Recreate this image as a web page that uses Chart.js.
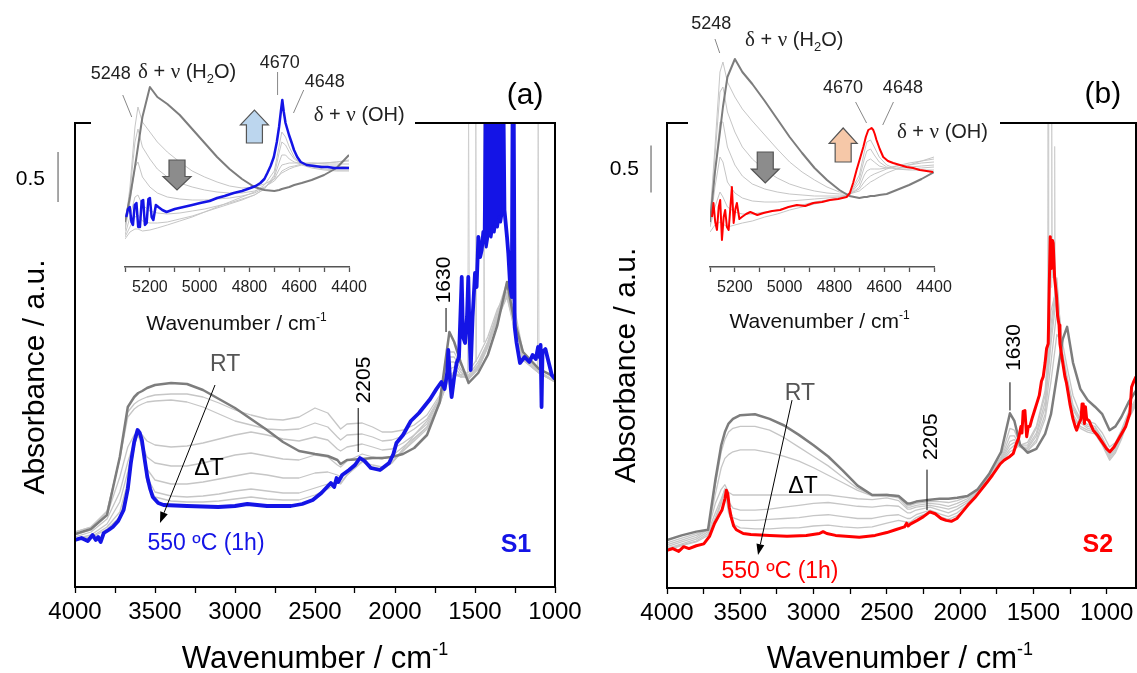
<!DOCTYPE html>
<html><head><meta charset="utf-8">
<script src="https://cdn.jsdelivr.net/npm/chart.js@4.4.1/dist/chart.umd.min.js"></script>
<style>
html,body{margin:0;padding:0;background:#fff;overflow:hidden;width:1137px;height:673px;position:relative;}
canvas{position:absolute;}
#ca{left:0;top:0;z-index:1}
#cb{left:560px;top:0;z-index:2}
#ia{left:91px;top:38px;z-index:3}
#ib{left:688px;top:0;z-index:4}
</style></head><body>
<canvas id="ca" width="620" height="673"></canvas>
<canvas id="cb" width="577" height="673"></canvas>
<canvas id="ia" width="324" height="302"></canvas>
<canvas id="ib" width="312" height="340"></canvas>
<script>
// ---------------- DATA ----------------
// Panel (a), sample S1: wavenumber grid for the RT / intermediate spectra
const wnA = [4000,3900,3800,3720,3670,3630,3605,3580,3550,3500, 3400,3300,3200,3100,3000,2900,2800,2700,2600,2500, 2420,2360,2340,2300,2205,2140,2080,2020,1950,1880, 1800,1720,1660,1630,1590,1540,1480,1420,1360,1300, 1260,1200,1100,1000];
const rtA = [.53,.58,.72,1.30,1.80,1.90,1.94,1.96,1.99,2.02, 2.04,2.03,1.97,1.88,1.79,1.68,1.57,1.45,1.36,1.33, 1.31,1.27,1.23,1.27,1.28,1.29,1.29,1.30,1.33,1.39, 1.52,1.85,2.55,2.45,2.25,2.04,2.14,2.32,2.62,3.05, 2.70,2.35,2.18,2.10];
const g1A = [.55,.60,.75,1.30,1.75,1.83,1.86,1.88,1.90,1.92, 1.93,1.93,1.90,1.84,1.77,1.72,1.68,1.67,1.70,1.79, 1.74,1.62,1.58,1.63,1.64,1.60,1.55,1.55,1.57,1.62, 1.72,1.92,2.35,2.35,2.22,2.10,2.22,2.45,2.75,3.05, 2.85,2.35,2.18,2.08];
const g2A = [.55,.60,.76,1.28,1.70,1.78,1.81,1.83,1.85,1.86, 1.87,1.85,1.80,1.73,1.66,1.62,1.58,1.57,1.58,1.64, 1.60,1.50,1.47,1.52,1.53,1.50,1.46,1.47,1.51,1.58, 1.68,1.90,2.30,2.30,2.18,2.08,2.20,2.42,2.72,3.00, 2.80,2.32,2.16,2.06];
const g3A = [.52,.57,.72,1.10,1.40,1.52,1.55,1.52,1.46,1.42, 1.40,1.41,1.44,1.48,1.52,1.55,1.52,1.48,1.46,1.50, 1.47,1.38,1.36,1.40,1.43,1.40,1.37,1.38,1.44,1.52, 1.63,1.88,2.25,2.25,2.15,2.08,2.18,2.40,2.70,2.95, 2.75,2.30,2.15,2.05];
const g4A = [.50,.55,.68,0.95,1.25,1.45,1.52,1.42,1.30,1.24, 1.21,1.21,1.24,1.28,1.32,1.34,1.31,1.28,1.27,1.32, 1.30,1.22,1.20,1.26,1.33,1.30,1.28,1.31,1.40,1.49, 1.60,1.85,2.18,2.20,2.12,2.08,2.18,2.40,2.68,2.92, 2.70,2.28,2.14,2.05];
const g5A = [.48,.52,.63,0.85,1.15,1.45,1.53,1.38,1.18,1.07, 1.03,1.03,1.05,1.08,1.11,1.14,1.12,1.09,1.09,1.14, 1.15,1.12,1.10,1.16,1.25,1.22,1.20,1.25,1.36,1.46, 1.58,1.83,2.12,2.15,2.10,2.10,2.20,2.42,2.68,2.90, 2.65,2.27,2.14,2.05];
const g6A = [.47,.50,.60,0.75,1.05,1.42,1.54,1.40,1.10,0.95, 0.91,0.90,0.91,0.93,0.96,0.98,0.96,0.94,0.94,0.99, 1.03,1.05,1.04,1.12,1.25,1.20,1.18,1.24,1.36,1.48, 1.60,1.84,2.10,2.12,2.10,2.12,2.25,2.45,2.72,2.90, 2.62,2.27,2.14,2.05];
const g7A = [.47,.49,.58,0.70,1.00,1.40,1.55,1.42,1.05,0.90, 0.86,0.85,0.85,0.86,0.88,0.90,0.88,0.87,0.87,0.92, 0.98,1.04,1.03,1.12,1.26,1.19,1.17,1.24,1.38,1.52, 1.66,1.88,2.12,2.12,2.12,2.15,2.30,2.50,2.78,2.95, 2.62,2.28,2.15,2.06];
const spikeWnA  = [1546,1540,1534,1520,1500,1495,1490,1470,1450,1445,1440,1300,1110,1105,1100];
const spikeAbsA = [2.10,4.80,2.15,null,2.25,4.80,2.25,null,2.45,4.80,2.45,null,2.20,4.80,2.20];
// 550 C (1h) spectrum of S1 (off-scale between ~1432 and ~1322)
const blueWnA = [4000,3960,3920,3890,3870,3855,3840,3820,3790,3764,3730,3696,3670,3651,3630,3609,3595,3582,3565,3548,3530,3514,3480,3446,3300,3105,3000,2923,2800,2651,2580,2514,2460,2401,2380,2365,2355,2330,2287,2250,2219,2190,2151,2094,2037,2010,1991,1950,1901,1850,1810,1780,1741,1710,1690,1673,1667,1655,1646,1630,1615,1600,1583,1575,1562,1550,1542,1535,1527,1515,1500,1490,1479,1468,1458,
  1448,1440,1432,1380,1322,1316,
  1300,1292,1280,1270,1265,1258,1252,1240,1219,1190,1160,1140,1120,1106,1098,1090,1084,1078,1060,1040,1020,1000];
const blueAbsA = [0.47,0.49,0.46,0.52,0.47,0.50,0.45,0.54,0.57,0.60,0.66,0.77,0.98,1.24,1.45,1.57,1.54,1.47,1.28,1.10,0.98,0.90,0.84,0.82,0.81,0.80,0.81,0.83,0.81,0.81,0.83,0.87,0.94,1.04,1.00,1.09,1.05,1.12,1.17,1.22,1.29,1.26,1.19,1.17,1.24,1.33,1.44,1.52,1.66,1.74,1.82,1.88,1.98,2.05,1.98,2.15,2.37,2.05,1.90,2.10,2.24,2.30,3.10,2.50,2.44,2.70,3.10,2.60,2.17,2.70,3.14,3.00,3.50,3.30,3.37,
  3.55,3.45,4.80,4.80,4.80,3.77,
  3.50,3.34,3.00,2.90,4.80,4.80,2.60,2.44,2.24,2.30,2.25,2.32,2.28,2.40,2.30,2.42,1.80,2.35,2.38,2.25,2.12,2.08];
// lower edge of the dense, saturated (off-scale) band of the S1 spectrum
const blobWnA  = [1436,1430,1420,1410,1400,1390,1380,1370,1360,1350,1340,1330,1322];
const blobLowA = [3.45,3.40,3.50,3.55,3.50,3.60,3.55,3.65,3.60,3.70,3.65,3.75,3.77];

// Panel (b), sample S2
const wnB = [4000,3900,3800,3720,3670,3630,3605,3580,3550,3500, 3400,3300,3200,3100,3000,2900,2800,2700,2600,2500, 2420,2360,2340,2300,2205,2140,2080,2020,1950,1880, 1800,1720,1660,1630,1590,1540,1480,1420,1380,1340, 1300,1270,1230,1180,1130,1080,1030,980,940,900, 850,800];
const rtB = [.51,.56,.60,.62,1.15,1.52,1.66,1.75,1.80,1.84, 1.85,1.80,1.73,1.63,1.52,1.40,1.25,1.09,0.99,0.99, 0.98,0.90,0.90,0.92,0.94,0.95,0.95,0.96,0.98,1.05, 1.22,1.45,1.86,1.78,1.52,1.44,1.48,1.64,1.85,2.25, 2.65,2.78,2.40,2.12,2.00,1.93,1.85,1.68,1.72,1.82, 1.98,2.10];
const k1B = [.48,.53,.58,.62,1.10,1.45,1.58,1.66,1.70,1.72, 1.72,1.68,1.60,1.50,1.40,1.30,1.18,1.06,0.99,1.00, 0.98,0.88,0.88,0.90,0.92,0.92,0.91,0.93,0.97,1.05, 1.20,1.40,1.70,1.68,1.52,1.46,1.55,1.80,2.20,2.70, 2.60,2.35,2.05,1.85,1.78,1.75,1.65,1.50,1.55,1.68, 1.88,2.02];
const k2B = [.46,.51,.56,.62,1.00,1.28,1.38,1.42,1.45,1.47, 1.47,1.44,1.40,1.35,1.28,1.20,1.12,1.04,0.98,0.98, 0.96,0.86,0.86,0.88,0.90,0.89,0.87,0.90,0.95,1.04, 1.19,1.38,1.62,1.62,1.50,1.46,1.58,1.85,2.40,2.95, 2.50,2.25,1.95,1.80,1.74,1.72,1.60,1.45,1.52,1.65, 1.86,2.00];
const k3B = [.44,.49,.54,.62,0.90,1.05,1.10,1.02,0.99,0.99, 0.99,0.99,0.99,0.99,0.99,0.99,0.97,0.95,0.94,0.96, 0.93,0.84,0.84,0.86,0.88,0.86,0.84,0.87,0.93,1.03, 1.18,1.37,1.56,1.58,1.50,1.48,1.62,1.92,2.60,3.15, 2.45,2.20,1.92,1.78,1.72,1.70,1.58,1.42,1.50,1.63, 1.85,1.98];
const k4B = [.42,.47,.52,.60,0.80,0.95,1.05,0.92,0.85,0.83, 0.83,0.84,0.86,0.88,0.90,0.91,0.89,0.87,0.86,0.88, 0.87,0.80,0.80,0.83,0.86,0.83,0.80,0.84,0.91,1.02, 1.17,1.36,1.52,1.55,1.50,1.50,1.65,1.98,2.70,3.25, 2.45,2.18,1.90,1.76,1.70,1.68,1.56,1.40,1.48,1.62, 1.84,1.97];
const k5B = [.41,.46,.50,.58,0.75,0.92,1.06,0.85,0.75,0.72, 0.72,0.73,0.74,0.75,0.77,0.78,0.76,0.74,0.74,0.77, 0.78,0.74,0.74,0.78,0.83,0.79,0.76,0.80,0.89,1.01, 1.16,1.35,1.48,1.52,1.52,1.52,1.70,2.05,2.80,3.30, 2.42,2.15,1.85,1.72,1.68,1.66,1.54,1.38,1.46,1.60, 1.82,1.96];
const k6B = [.40,.45,.49,.56,0.72,0.90,1.05,0.80,0.68,0.64, 0.63,0.63,0.64,0.64,0.66,0.67,0.65,0.64,0.65,0.69, 0.72,0.70,0.70,0.75,0.81,0.76,0.73,0.77,0.87,1.00, 1.15,1.34,1.45,1.48,1.52,1.55,1.72,2.10,2.95,3.20, 2.40,2.12,1.82,1.70,1.66,1.64,1.52,1.36,1.44,1.58, 1.80,1.95];
const spikeWnB  = [1404,1400,1396,1390,1379,1375,1371,1365,1359,1355,1351];
const spikeAbsB = [2.60,5.00,2.70,null,3.20,5.00,3.30,null,3.10,4.70,3.10];
const redWnB = [4000,3960,3920,3886,3850,3800,3749,3710,3675,3650,3625,3605,3595,3585,3575,3563,3545,3527,3480,3428,3300,3181,3050,2960,2935,2910,2850,2688,2580,2500,2441,2380,2365,2355,2340,2293,2250,2207,2170,2130,2096,2060,2022,1990,1948,1900,1860,1819,1780,1727,1700,1660,1638,1615,1600,1585,1578,1570,1558,1546,1535,1524,1510,1490,1478,1460,1445,1433,1420,1410,1399,1392,1385,1378,1370,1365,1355,1342,1335,1325,1319,1300,1285,1274,1260,1251,1230,1215,1205,1190,1175,1168,1160,1152,1145,1137,1120,1092,1060,1030,1000,978,950,910,870,842,830,815,800];
const redAbsB = [0.40,0.42,0.39,0.44,0.42,0.45,0.47,0.55,0.69,0.76,0.83,0.95,1.04,1.00,0.86,0.76,0.66,0.62,0.58,0.57,0.56,0.55,0.56,0.58,0.60,0.58,0.56,0.54,0.56,0.59,0.62,0.65,0.69,0.66,0.68,0.72,0.76,0.81,0.79,0.74,0.72,0.71,0.74,0.80,0.88,0.96,1.04,1.12,1.20,1.32,1.36,1.40,1.43,1.54,1.60,1.72,1.65,1.88,1.89,1.61,1.72,1.72,1.80,1.90,1.96,2.05,2.20,2.25,2.40,2.55,2.60,3.20,3.74,3.40,3.70,3.67,3.30,3.10,2.90,2.80,2.60,2.40,2.25,2.18,2.05,1.96,1.80,1.72,1.68,1.75,1.80,1.96,1.96,1.75,1.93,1.80,1.78,1.68,1.62,1.55,1.48,1.45,1.50,1.61,1.72,1.86,2.14,2.20,2.25];

// Insets: near-IR region 5300-4400 cm-1
const wnIns = [5300,5280,5260,5248,5230,5200,5170,5130,5080,5030,4980,4930,4880,4830,4780,4740,4700,4680,4670,4655,4640,4620,4590,4550,4500,4450,4400];
const rtInsA = [.45,.70,1.00,1.20,1.50,1.80,1.70,1.63,1.52,1.38,1.24,1.10,0.98,0.88,0.80,0.77,0.76,0.77,0.78,0.79,0.80,0.82,0.84,0.87,0.92,0.99,1.12];
const i1A = [.40,.80,1.40,1.60,1.45,1.35,1.25,1.15,1.05,0.96,0.90,0.85,0.81,0.79,0.80,0.83,0.88,0.92,0.94,0.96,0.98,1.00,1.02,1.03,1.04,1.05,1.07];
const i2A = [.38,.75,1.25,1.38,1.20,1.08,0.98,0.90,0.84,0.80,0.77,0.75,0.74,0.74,0.76,0.80,0.86,0.92,0.96,0.98,1.00,1.01,1.03,1.04,1.04,1.05,1.06];
const i3A = [.36,.65,1.00,1.05,0.90,0.80,0.74,0.70,0.68,0.67,0.67,0.68,0.69,0.71,0.74,0.79,0.88,0.98,1.02,1.03,1.04,1.04,1.04,1.04,1.03,1.03,1.03];
const i4A = [.32,.50,.70,.72,.62,.56,.54,.53,.54,.56,.58,.61,.64,.68,.72,.78,.90,1.05,1.12,1.12,1.08,1.05,1.03,1.02,1.01,1.01,1.00];
const i5A = [.30,.40,.50,.52,.46,.44,.44,.45,.48,.51,.55,.59,.63,.67,.72,.78,.92,1.15,1.25,1.22,1.15,1.08,1.03,1.00,0.98,0.97,0.97];
const i6A = [.28,.35,.38,.38,.36,.37,.39,.42,.46,.50,.55,.60,.65,.70,.75,.82,.96,1.22,1.35,1.30,1.20,1.10,1.02,0.99,0.97,0.96,0.96];
const blueInsWnA = [5295,5288,5281,5274,5268,5261,5254,5247,5240,5233,5227,5220,5213,5206,5200,5193,5186,5176,5166,5150,5133,5100,5065,5030,4998,4960,4930,4900,4863,4830,4796,4775,4756,4740,4728,4715,4702,4690,4681,4674,4668,4662,4655,4648,4641,4630,4621,4608,4594,4570,4540,4510,4486,4460,4445,4420,4398];
const blueInsAbsA = [0.50,0.58,0.60,0.45,0.42,0.62,0.64,0.40,0.40,0.66,0.67,0.42,0.44,0.68,0.69,0.50,0.47,0.62,0.60,0.57,0.55,0.58,0.60,0.62,0.64,0.66,0.69,0.71,0.74,0.76,0.79,0.81,0.84,0.88,0.94,1.01,1.10,1.25,1.40,1.55,1.67,1.55,1.44,1.38,1.32,1.24,1.17,1.10,1.05,1.02,1.01,1.00,1.00,0.99,0.99,0.99,0.99];
const rtInsB = [.45,.95,1.35,1.60,1.90,2.08,1.95,1.83,1.66,1.48,1.30,1.14,0.99,0.87,0.77,0.71,0.69,0.70,0.70,0.71,0.71,0.72,0.73,0.77,0.82,0.88,0.95];
const j1B = [.50,1.20,1.95,2.05,1.85,1.70,1.58,1.46,1.32,1.18,1.05,0.95,0.87,0.80,0.75,0.73,0.76,0.80,0.82,0.85,0.87,0.90,0.94,0.98,1.02,1.06,1.10];
const j2B = [.48,1.10,1.75,1.80,1.55,1.35,1.20,1.08,0.97,0.89,0.83,0.79,0.76,0.74,0.73,0.73,0.78,0.85,0.88,0.91,0.93,0.95,0.98,1.01,1.04,1.06,1.08];
const j3B = [.45,.95,1.45,1.45,1.20,1.02,0.91,0.83,0.78,0.75,0.73,0.72,0.71,0.71,0.71,0.72,0.80,0.92,0.96,0.98,0.98,0.98,0.99,1.01,1.02,1.04,1.05];
const j4B = [.42,.80,1.10,1.05,0.85,0.74,0.69,0.66,0.65,0.65,0.66,0.67,0.68,0.69,0.70,0.72,0.84,1.00,1.06,1.08,1.05,1.01,0.99,0.99,1.00,1.01,1.02];
const j5B = [.40,.60,.75,.70,.60,.55,.53,.53,.55,.57,.60,.62,.65,.67,.69,.72,.88,1.08,1.16,1.18,1.12,1.05,1.00,0.98,0.98,0.99,1.00];
const j6B = [.35,.42,.45,.43,.40,.42,.44,.46,.50,.53,.57,.60,.63,.66,.69,.73,.92,1.15,1.25,1.27,1.20,1.10,1.02,0.98,0.97,0.97,0.97];
const redInsWnB = [5292,5286,5279,5272,5265,5259,5252,5245,5239,5232,5225,5218,5212,5205,5198,5192,5182,5172,5155,5138,5110,5085,5050,5018,4985,4951,4918,4885,4850,4818,4785,4751,4738,4725,4711,4698,4684,4674,4664,4657,4651,4644,4638,4631,4618,4604,4585,4564,4537,4510,4484,4457,4430,4404];
const redInsAbsB = [0.50,0.64,0.45,0.37,0.60,0.67,0.27,0.50,0.57,0.40,0.37,0.60,0.80,0.44,0.58,0.64,0.48,0.50,0.53,0.55,0.52,0.54,0.56,0.57,0.60,0.62,0.61,0.64,0.65,0.67,0.68,0.70,0.74,0.84,0.97,1.08,1.20,1.30,1.37,1.38,1.39,1.37,1.33,1.27,1.18,1.10,1.06,1.04,1.02,1.00,0.99,0.97,0.96,0.95];

// Tick values and labelled ticks
const mainTicks = [4000,3750,3500,3250,3000,2750,2500,2250,2000,1750,1500,1250,1000];
const mainTickLabels = [4000,3500,3000,2500,2000,1500,1000];
const insetTicks = [5300,5200,5100,5000,4900,4800,4700,4600,4500,4400];
const insetTickLabels = [5200,5000,4800,4600,4400];

// ---------------- STYLE / HELPERS ----------------
const FONT = "'Liberation Sans', Arial, Helvetica, sans-serif";
const SERIF = "'Liberation Serif', 'DejaVu Serif', serif";
const BLUE = '#1414e6', RED = '#ff0000', DARK = '#7d7d7d', LIGHT = '#c6c6c6';
Chart.defaults.font.family = FONT;
Chart.defaults.color = '#000';

function pts(wn, ab) { return wn.map((w, i) => ({x: w, y: ab[i]})); }
function ds(wn, ab, color, width) {
  return {type: 'line', data: pts(wn, ab), borderColor: color, borderWidth: width, pointRadius: 0,
          showLine: true, fill: false, tension: 0, spanGaps: false, borderJoinStyle: 'round'};
}
function txt(ctx, s, x, y, o) {
  ctx.save();
  ctx.font = (o.weight || 'normal') + ' ' + o.size + 'px ' + (o.family || FONT);
  ctx.fillStyle = o.color || '#000';
  ctx.textAlign = o.align || 'center';
  ctx.textBaseline = 'alphabetic';
  ctx.translate(x, y); if (o.rot) ctx.rotate(o.rot);
  ctx.fillText(s, 0, 0.36 * o.size);
  ctx.restore();
}
function rich(ctx, segs, x, y, align, color, rot) {
  ctx.save(); ctx.translate(x, y); if (rot) ctx.rotate(rot);
  ctx.textBaseline = 'alphabetic'; ctx.textAlign = 'left'; ctx.fillStyle = color || '#000';
  let W = 0;
  const ws = segs.map(s => { ctx.font = s[1] + 'px ' + (s[3] || FONT); const w = ctx.measureText(s[0]).width; W += w; return w; });
  let cx = align === 'center' ? -W / 2 : (align === 'right' ? -W : 0);
  const base = 0.36 * segs[0][1];
  segs.forEach((s, i) => { ctx.font = s[1] + 'px ' + (s[3] || FONT); ctx.fillText(s[0], cx, base + (s[2] || 0)); cx += ws[i]; });
  ctx.restore();
}
function seg(ctx, x1, y1, x2, y2, color, w) {
  ctx.save(); ctx.strokeStyle = color; ctx.lineWidth = w;
  ctx.beginPath(); ctx.moveTo(x1, y1); ctx.lineTo(x2, y2); ctx.stroke(); ctx.restore();
}
function arrowLine(ctx, x1, y1, x2, y2) {
  const a = Math.atan2(y2 - y1, x2 - x1), L = 11, H = 4;
  ctx.save(); ctx.strokeStyle = '#000'; ctx.fillStyle = '#000'; ctx.lineWidth = 1;
  ctx.beginPath(); ctx.moveTo(x1, y1); ctx.lineTo(x2 - L * Math.cos(a), y2 - L * Math.sin(a)); ctx.stroke();
  ctx.beginPath(); ctx.moveTo(x2, y2);
  ctx.lineTo(x2 - L * Math.cos(a) + H * Math.sin(a), y2 - L * Math.sin(a) - H * Math.cos(a));
  ctx.lineTo(x2 - L * Math.cos(a) - H * Math.sin(a), y2 - L * Math.sin(a) + H * Math.cos(a));
  ctx.closePath(); ctx.fill(); ctx.restore();
}
function blockArrow(ctx, x, yFrom, yTo, fill) {
  const dir = Math.sign(yTo - yFrom), hw = 14, sw = 8, hl = Math.abs(yTo - yFrom) * 0.45;
  const yn = yTo - dir * hl;
  ctx.save();
  ctx.beginPath();
  ctx.moveTo(x - sw, yFrom); ctx.lineTo(x + sw, yFrom); ctx.lineTo(x + sw, yn); ctx.lineTo(x + hw, yn);
  ctx.lineTo(x, yTo); ctx.lineTo(x - hw, yn); ctx.lineTo(x - sw, yn); ctx.closePath();
  ctx.fillStyle = fill; ctx.fill(); ctx.strokeStyle = '#555'; ctx.lineWidth = 1.2; ctx.stroke();
  ctx.restore();
}
function frame(ctx, a) {
  ctx.save(); ctx.strokeStyle = '#000'; ctx.lineWidth = 2;
  ctx.strokeRect(a.left, a.top, a.right - a.left, a.bottom - a.top); ctx.restore();
}

const DRAW = {
  ca(ctx, X, Y, ch) {
    frame(ctx, ch.chartArea);
    seg(ctx, X(4106), Y(4.35), X(4106), Y(3.85), '#8a8a8a', 1.5);
    txt(ctx, '0.5', X(4188), Y(4.10), {size: 21, align: 'right'});
    txt(ctx, '(a)', X(1187), Y(4.94), {size: 30});
    rich(ctx, [['Absorbance / a.u.', 30]], X(4263), Y(2.10), 'center', '#000', -Math.PI / 2);
    rich(ctx, [['Wavenumber / cm', 31], ['-1', 18, -13]], X(2500), Y(-0.70), 'center', '#000');
    txt(ctx, 'RT', X(3062), Y(2.24), {size: 23, color: '#555'});
    arrowLine(ctx, X(3125), Y(2.02), X(3469), Y(0.64));
    txt(ctx, '\u0394T', X(3162), Y(1.20), {size: 23});
    txt(ctx, '550 \u00baC (1h)', X(3181), Y(0.45), {size: 23, color: BLUE});
    txt(ctx, 'S1', X(1244), Y(0.44), {size: 25, weight: 'bold', color: BLUE});
    txt(ctx, '2205', X(2206), Y(2.07), {size: 21, rot: -Math.PI / 2});
    seg(ctx, X(2230), Y(1.79), X(2230), Y(1.35), '#000', 1);
    txt(ctx, '1630', X(1706), Y(3.07), {size: 21, rot: -Math.PI / 2});
    seg(ctx, X(1681), Y(2.79), X(1681), Y(2.55), '#000', 1);
  },
  cb(ctx, X, Y, ch) {
    frame(ctx, ch.chartArea);
    seg(ctx, X(4109), Y(4.71), X(4109), Y(4.21), '#8a8a8a', 1.5);
    txt(ctx, '0.5', X(4191), Y(4.48), {size: 21, align: 'right'});
    txt(ctx, '(b)', X(1026), Y(5.28), {size: 30});
    rich(ctx, [['Absorbance / a.u.', 30]], X(4293), Y(2.37), 'center', '#000', -Math.PI / 2);
    rich(ctx, [['Wavenumber / cm', 31], ['-1', 18, -13]], X(2411), Y(-0.73), 'center', '#000');
    txt(ctx, 'RT', X(3093), Y(2.09), {size: 23, color: '#555'});
    arrowLine(ctx, X(3147), Y(2.00), X(3379), Y(0.35));
    txt(ctx, '\u0394T', X(3072), Y(1.10), {size: 23});
    txt(ctx, '550 \u00baC (1h)', X(3229), Y(0.19), {size: 23, color: RED});
    txt(ctx, 'S2', X(1060), Y(0.48), {size: 25, weight: 'bold', color: RED});
    txt(ctx, '2205', X(2206), Y(1.61), {size: 21, rot: -Math.PI / 2});
    seg(ctx, X(2226), Y(1.26), X(2226), Y(0.83), '#000', 1);
    txt(ctx, '1630', X(1640), Y(2.56), {size: 21, rot: -Math.PI / 2});
    seg(ctx, X(1660), Y(2.19), X(1660), Y(1.89), '#000', 1);
  },
  ia(ctx, X, Y) {
    const H2O = [['\u03b4', 21, 0, SERIF], [' + ', 20], ['\u03bd', 21, 0, SERIF], [' (H', 20], ['2', 13, 5], ['O)', 20]];
    const OH = [['\u03b4', 21, 0, SERIF], [' + ', 20], ['\u03bd', 21, 0, SERIF], [' (OH)', 20]];
    txt(ctx, '5248', X(5357), Y(1.94), {size: 18, color: '#222'});
    rich(ctx, H2O, X(5248), Y(1.97), 'left', '#222');
    txt(ctx, '4670', X(4678), Y(2.05), {size: 18, color: '#222'});
    txt(ctx, '4648', X(4497), Y(1.86), {size: 18, color: '#222'});
    rich(ctx, OH, X(4542), Y(1.54), 'left', '#222');
    seg(ctx, X(5309), Y(1.72), X(5273), Y(1.50), '#888', 1);
    seg(ctx, X(4687), Y(1.95), X(4687), Y(1.72), '#888', 1);
    seg(ctx, X(4582), Y(1.77), X(4623), Y(1.54), '#888', 1);
    blockArrow(ctx, X(5091), Y(1.07), Y(0.77), '#8c8c8c');
    blockArrow(ctx, X(4780), Y(1.24), Y(1.57), '#bcd6ee');
    rich(ctx, [['Wavenumber / cm', 21], ['-1', 12, -9]], X(4852), Y(-0.55), 'center', '#111');
  },
  ib(ctx, X, Y) {
    const H2O = [['\u03b4', 21, 0, SERIF], [' + ', 20], ['\u03bd', 21, 0, SERIF], [' (H', 20], ['2', 13, 5], ['O)', 20]];
    const OH = [['\u03b4', 21, 0, SERIF], [' + ', 20], ['\u03bd', 21, 0, SERIF], [' (OH)', 20]];
    txt(ctx, '5248', X(5295), Y(2.44), {size: 18, color: '#222'});
    rich(ctx, H2O, X(5159), Y(2.29), 'left', '#222');
    txt(ctx, '4670', X(4766), Y(1.80), {size: 18, color: '#222'});
    txt(ctx, '4648', X(4525), Y(1.80), {size: 18, color: '#222'});
    rich(ctx, OH, X(4549), Y(1.37), 'left', '#222');
    seg(ctx, X(5280), Y(2.28), X(5261), Y(2.14), '#888', 1);
    seg(ctx, X(4715), Y(1.65), X(4671), Y(1.44), '#888', 1);
    seg(ctx, X(4563), Y(1.65), X(4606), Y(1.42), '#888', 1);
    blockArrow(ctx, X(5078), Y(1.15), Y(0.84), '#8c8c8c');
    blockArrow(ctx, X(4765), Y(1.05), Y(1.39), '#f6c8a8');
    rich(ctx, [['Wavenumber / cm', 21], ['-1', 12, -9]], X(4860), Y(-0.53), 'center', '#111');
  }
};
const BG = {ia: '#fff', ib: '#fff'};
// saturated band painted from its lower edge up to the top of the plot, via the chart scales
const BAND = {ca: [blobWnA, blobLowA, BLUE]};

Chart.register({
  id: 'deco',
  beforeDraw(chart) {
    const bg = BG[chart.canvas.id];
    if (bg) { const c = chart.ctx; c.save(); c.fillStyle = bg; c.fillRect(0, 0, chart.width, chart.height); c.restore(); }
  },
  afterDatasetsDraw(chart) {
    const b = BAND[chart.canvas.id]; if (!b) return;
    const xs = chart.scales.x, ys = chart.scales.y, a = chart.chartArea, c = chart.ctx;
    c.save();
    c.beginPath(); c.rect(a.left, a.top, a.right - a.left, a.bottom - a.top); c.clip();
    c.beginPath();
    c.moveTo(xs.getPixelForValue(b[0][0]), a.top);
    b[0].forEach((w, i) => c.lineTo(xs.getPixelForValue(w), ys.getPixelForValue(b[1][i])));
    c.lineTo(xs.getPixelForValue(b[0][b[0].length - 1]), a.top);
    c.closePath();
    c.fillStyle = b[2]; c.fill();
    c.lineWidth = 3; c.strokeStyle = b[2]; c.lineJoin = 'round'; c.stroke();
    c.restore();
  },
  afterDraw(chart) {
    const f = DRAW[chart.canvas.id]; if (!f) return;
    const xs = chart.scales.x, ys = chart.scales.y;
    const ctx = chart.ctx; ctx.save();
    f(ctx, v => xs.getPixelForValue(v), v => ys.getPixelForValue(v), chart);
    ctx.restore();
  }
});

function xScale(min, max, h, tickVals, labelVals, fontSize, tickLen, pad, tickColor, border) {
  return {
    type: 'linear', min: min, max: max, reverse: true, position: 'bottom',
    afterBuildTicks: s => { s.ticks = tickVals.map(v => ({value: v})); },
    afterFit: s => { s.height = h; s.paddingLeft = 0; s.paddingRight = 0; },
    border: border ? {display: true, color: tickColor, width: 1.5} : {display: false},
    grid: {drawOnChartArea: false, drawTicks: true, tickLength: tickLen, tickWidth: 1.3, tickColor: tickColor},
    ticks: {autoSkip: false, maxRotation: 0, minRotation: 0, padding: pad, color: fontSize > 20 ? '#000' : '#222',
            font: {size: fontSize}, callback: v => labelVals.indexOf(v) >= 0 ? String(v) : ''}
  };
}
function baseOpts(padding, xs, ymax) {
  return {
    responsive: false, animation: false, devicePixelRatio: 1, events: [],
    layout: {padding: padding},
    plugins: {legend: {display: false}, tooltip: {enabled: false}},
    elements: {point: {radius: 0}},
    scales: {x: xs, y: {type: 'linear', display: false, min: 0, max: ymax}}
  };
}

// Main panel (a)
new Chart(document.getElementById('ca'), {
  type: 'line',
  data: {datasets: [
    ds(blueWnA, blueAbsA, BLUE, 3.8), ds(wnA, rtA, DARK, 2.5),
    ds(wnA, g1A, LIGHT, 1.3), ds(wnA, g2A, LIGHT, 1.3), ds(wnA, g3A, LIGHT, 1.3), ds(wnA, g4A, LIGHT, 1.3),
    ds(wnA, g5A, LIGHT, 1.3), ds(wnA, g6A, LIGHT, 1.3), ds(wnA, g7A, LIGHT, 1.3), ds(spikeWnA, spikeAbsA, '#cfcfcf', 1)
  ]},
  options: baseOpts({left: 75, top: 123, right: 65, bottom: 0},
    xScale(1000, 4000, 86, mainTicks, mainTickLabels, 24, 6, 5, '#000', false), 4.64)
});
// Main panel (b)
new Chart(document.getElementById('cb'), {
  type: 'line',
  data: {datasets: [
    ds(redWnB, redAbsB, RED, 3), ds(wnB, rtB, DARK, 2.5),
    ds(wnB, k1B, LIGHT, 1.3), ds(wnB, k2B, LIGHT, 1.3), ds(wnB, k3B, LIGHT, 1.3),
    ds(wnB, k4B, LIGHT, 1.3), ds(wnB, k5B, LIGHT, 1.3), ds(wnB, k6B, LIGHT, 1.3), ds(spikeWnB, spikeAbsB, '#cfcfcf', 1)
  ]},
  options: baseOpts({left: 107, top: 123, right: 1, bottom: 0},
    xScale(800, 4000, 85, mainTicks, mainTickLabels, 24, 6, 5, '#000', false), 4.95)
});
// Inset (a)
new Chart(document.getElementById('ia'), {
  type: 'line',
  data: {datasets: [
    ds(blueInsWnA, blueInsAbsA, BLUE, 2.5), ds(wnIns, rtInsA, DARK, 2),
    ds(wnIns, i1A, LIGHT, 1), ds(wnIns, i2A, LIGHT, 1), ds(wnIns, i3A, LIGHT, 1),
    ds(wnIns, i4A, LIGHT, 1), ds(wnIns, i5A, LIGHT, 1), ds(wnIns, i6A, LIGHT, 1)
  ]},
  options: baseOpts({left: 34, top: 7, right: 66, bottom: 0},
    xScale(4400, 5300, 73, insetTicks, insetTickLabels, 16, 5, 6, '#555', true), 2.22)
});
// Inset (b)
new Chart(document.getElementById('ib'), {
  type: 'line',
  data: {datasets: [
    ds(redInsWnB, redInsAbsB, RED, 2), ds(wnIns, rtInsB, DARK, 2),
    ds(wnIns, j1B, LIGHT, 1), ds(wnIns, j2B, LIGHT, 1), ds(wnIns, j3B, LIGHT, 1),
    ds(wnIns, j4B, LIGHT, 1), ds(wnIns, j5B, LIGHT, 1), ds(wnIns, j6B, LIGHT, 1)
  ]},
  options: baseOpts({left: 22, top: 12, right: 66, bottom: 0},
    xScale(4400, 5300, 73, insetTicks, insetTickLabels, 16, 5, 6, '#555', true), 2.55)
});
</script></body></html>
